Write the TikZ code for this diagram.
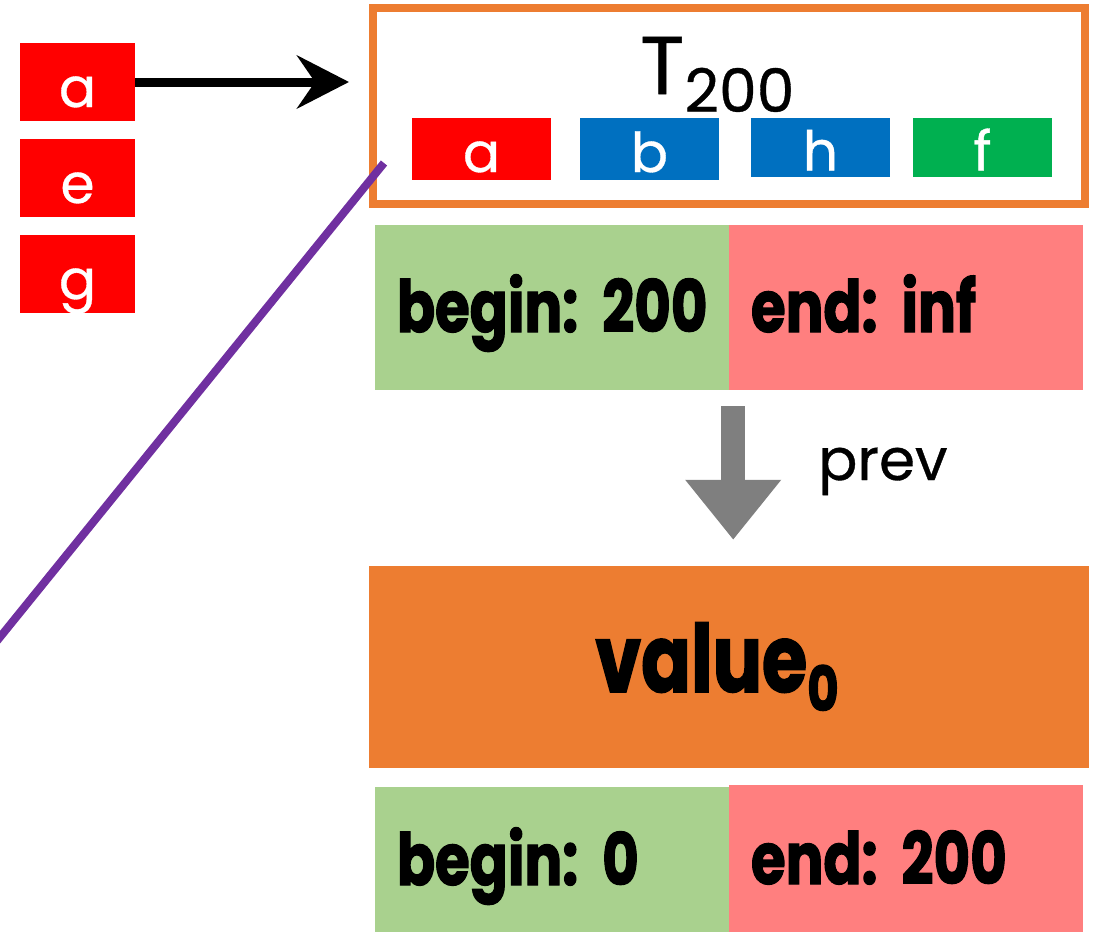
\documentclass[tikz,border=0pt]{standalone}
\usepackage{fontspec}
\setmainfont{Poppins}[FakeBold=0.6]
\newfontfamily\heavyfont{Poppins}[FakeStretch=0.78, BoldFeatures={FakeBold=1.6}]
\usetikzlibrary{arrows.meta}
\frenchspacing

\definecolor{keyred}{HTML}{FF0000}
\definecolor{keyblue}{HTML}{0070C0}
\definecolor{keygreen}{HTML}{00B050}
\definecolor{frameorange}{HTML}{ED7D31}
\definecolor{begingreen}{HTML}{A9D18E}
\definecolor{endred}{HTML}{FF7F7F}
\definecolor{pinpurple}{HTML}{7030A0}
\definecolor{prevgray}{HTML}{7F7F7F}

\tikzset{
  keybox/.style={rectangle, inner sep=0pt, text=white,
    font=\fontsize{55}{60}\selectfont, text depth=0pt},
  sidekey/.style={keybox, fill=keyred, minimum width=115pt, minimum height=78pt, text height=50pt},
  inkey/.style={keybox, minimum width=139pt, text height=46pt},
  band/.style={rectangle, inner xsep=22pt, inner ysep=0pt, text width=310pt, align=left,
    minimum width=354pt, font=\heavyfont\bfseries\fontsize{72}{76}\selectfont,
    text height=55pt, text depth=6pt},
  plainlabel/.style={inner sep=0pt, anchor=base west},
  keyarrow/.style={line width=9pt, -{Stealth[length=52pt, width=53pt, inset=18pt]}},
  prevarrow/.style={draw=prevgray, line width=24pt, -{Triangle[length=60pt, width=92pt]}},
}

\begin{document}
\begin{tikzpicture}[x=1pt, y=-1pt]
\useasboundingbox (0,0) rectangle (1099,932);

% keys on the left
\node[sidekey] (ka) at (77.5,82) {a};
\node[sidekey] (ke) at (77.5,178) {e};
\node[sidekey] (kg) at (77.5,274) {g};

% transaction frame
\node[draw=frameorange, line width=8pt, rectangle, inner sep=0pt,
      minimum width=712pt, minimum height=196pt] (frame) at (729,106) {};
\node[plainlabel, font=\fontsize{82}{86}\selectfont] (title) at (640,94)
  {T\raisebox{-18pt}{\fontsize{60}{64}\selectfont 200}};
\node[inkey, fill=keyred,   minimum height=62pt] (ta) at (481.5,149) {a};
\node[inkey, fill=keyblue,  minimum height=62pt] (tb) at (649.5,149) {b};
\node[inkey, fill=keyblue,  minimum height=59pt] (th) at (820.5,147.5) {h};
\node[inkey, fill=keygreen, minimum height=59pt] (tf) at (982.5,147.5) {f};

% version interval of the frame
\node[band, fill=begingreen, minimum height=165pt] (b1) at (552,307.5) {\mbox{begin: 200}};
\node[band, fill=endred,     minimum height=165pt] (e1) at (906,307.5) {\mbox{end: inf}};

% older value
\node[rectangle, fill=frameorange, inner sep=0pt, minimum width=720pt, minimum height=202pt,
      font=\heavyfont\bfseries\fontsize{94}{98}\selectfont, text height=56pt, text depth=6pt]
  (val) at (729,667) {\hspace*{-24pt}value\raisebox{-19pt}{\fontsize{62}{66}\selectfont 0}};

\node[band, fill=begingreen, minimum height=145pt, text height=57pt] (b2) at (552,859.5) {\mbox{begin: 0}};
\node[band, fill=endred,     minimum height=147pt, text height=57pt] (e2) at (906,858.5) {\mbox{end: 200}};

% connectors
\draw[keyarrow, shorten >=20pt] (ka.east) -- (ka.east -| frame.west);

\coordinate (pin) at (384,163);
\coordinate (tail) at (-12,652);
\draw[pinpurple, line width=8pt] (pin) -- (tail);

\draw[prevarrow] ([xshift=4pt, yshift=-16pt]b1.south east)
  -- ([xshift=4pt, yshift=26pt]b1.south east |- val.north);
\node[plainlabel, font=\fontsize{58}{62}\selectfont] (prev) at (818,480) {prev};
\end{tikzpicture}
\end{document}
